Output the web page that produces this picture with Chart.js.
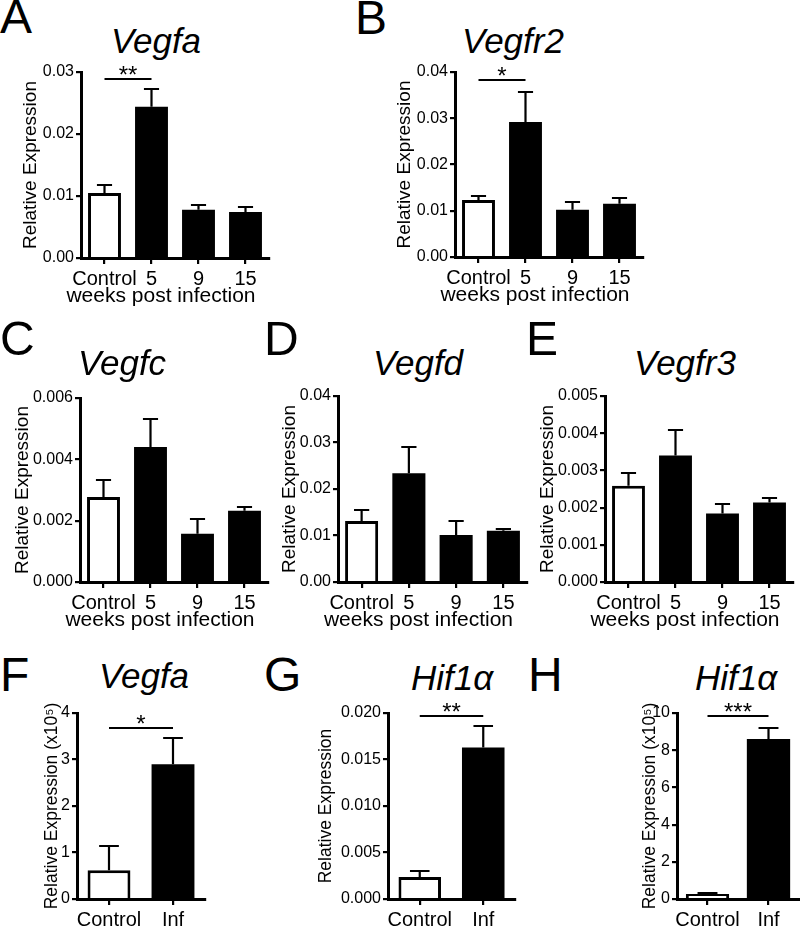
<!DOCTYPE html>
<html>
<head>
<meta charset="utf-8">
<script src="https://cdn.jsdelivr.net/npm/chart.js@4.4.1/dist/chart.umd.min.js"></script>
<style>
  body { margin: 0; background: #fff; }
  #fig { position: relative; width: 800px; height: 926px; overflow: hidden; font-family: "Liberation Sans", Arial, Helvetica, sans-serif; }
  #fig canvas { position: absolute; }
  .letter { position: absolute; font-size: 48px; line-height: 1; color: #000; }
  .gene { position: absolute; font-size: 35px; line-height: 1; font-style: italic; color: #000; transform: translateX(-50%); white-space: nowrap; }
</style>
</head>
<body>
<div id="fig"></div>
<script>
// categories
const timeLabels = ['Control', '5', '9', '15'];
const infLabels = ['Control', 'Inf'];

// A - Vegfa, weeks post infection
const vegfaMean = [0.0105, 0.0244, 0.0078, 0.0074];
const vegfaSem = [0.0013, 0.0029, 0.0007, 0.0008];
// B - Vegfr2
const vegfr2Mean = [0.0123, 0.0292, 0.0102, 0.0115];
const vegfr2Sem = [0.0008, 0.0064, 0.0017, 0.0012];
// C - Vegfc
const vegfcMean = [0.00277, 0.00440, 0.00157, 0.00232];
const vegfcSem = [0.00054, 0.00090, 0.00049, 0.00013];
// D - Vegfd
const vegfdMean = [0.0131, 0.0234, 0.0101, 0.0110];
const vegfdSem = [0.0024, 0.0056, 0.0030, 0.0005];
// E - Vegfr3
const vegfr3Mean = [0.00259, 0.00340, 0.00184, 0.00214];
const vegfr3Sem = [0.00033, 0.00068, 0.00027, 0.00011];
// F - Vegfa, control vs infected (x10^5)
const vegfaInfMean = [0.62, 2.90];
const vegfaInfSem = [0.52, 0.56];
// G - Hif1a
const hif1aMean = [0.00237, 0.0163];
const hif1aSem = [0.00063, 0.0023];
// H - Hif1a (x10^5)
const hif1aInfMean = [0.27, 8.60];
const hif1aInfSem = [0.05, 0.60];

// significance brackets
const sigA = { from: 0, to: 1, value: 0.0289, label: '**' };
const sigB = { from: 0, to: 1, value: 0.0383, label: '*' };
const sigF = { from: 0, to: 1, value: 3.68, label: '*' };
const sigG = { from: 0, to: 1, value: 0.0197, label: '**' };
const sigH = { from: 0, to: 1, value: 9.85, label: '***' };

const FONT = '"Liberation Sans", Arial, Helvetica, sans-serif';
Chart.defaults.font.family = FONT;
Chart.defaults.color = '#000';

// upper error bars (SEM)
const errorBars = {
  id: 'errorBars',
  afterDatasetsDraw(chart) {
    const { ctx } = chart;
    const ds = chart.data.datasets[0];
    const y = chart.scales.y;
    ctx.save();
    ctx.strokeStyle = '#000';
    ctx.lineWidth = 2.2;
    chart.getDatasetMeta(0).data.forEach((bar, i) => {
      const top = Math.round(y.getPixelForValue(ds.data[i] + ds.sem[i]));
      const half = bar.width * 0.23;
      ctx.beginPath();
      ctx.moveTo(bar.x, bar.y);
      ctx.lineTo(bar.x, top);
      ctx.moveTo(bar.x - half, top);
      ctx.lineTo(bar.x + half, top);
      ctx.stroke();
    });
    ctx.restore();
  }
};

// line with stars between two bars
const sigBracket = {
  id: 'sigBracket',
  afterDatasetsDraw(chart, args, opts) {
    if (!opts || opts.label == null) return;
    const { ctx } = chart;
    const x = chart.scales.x, y = chart.scales.y;
    const x1 = x.getPixelForValue(opts.from);
    const x2 = x.getPixelForValue(opts.to);
    const yy = Math.round(y.getPixelForValue(opts.value));
    ctx.save();
    ctx.strokeStyle = '#000';
    ctx.lineWidth = 2;
    ctx.beginPath();
    ctx.moveTo(x1, yy);
    ctx.lineTo(x2, yy);
    ctx.stroke();
    ctx.fillStyle = '#000';
    ctx.font = '24px ' + FONT;
    ctx.textAlign = 'center';
    ctx.textBaseline = 'alphabetic';
    ctx.fillText(opts.label, (x1 + x2) / 2, yy + 4);
    ctx.restore();
  }
};

// x caption, centred a little left of the axis like the original
const caption = {
  id: 'caption',
  afterDraw(chart, args, opts) {
    if (!opts || !opts.text) return;
    const { ctx, chartArea } = chart;
    ctx.save();
    ctx.fillStyle = '#000';
    ctx.font = '21px ' + FONT;
    ctx.textAlign = 'center';
    ctx.textBaseline = 'middle';
    ctx.fillText(opts.text, (chartArea.left + chartArea.right) / 2 + opts.dx, chartArea.bottom + opts.dy);
    ctx.restore();
  }
};

const panels = [
  { letter: 'A', lx: 0, lb: 34, gene: 'Vegfa', gx: 156, gb: 53,
    labels: timeLabels, mean: vegfaMean, sem: vegfaSem, max: 0.03, step: 0.01, dec: 2,
    yTitle: 'Relative Expression', yTitleSize: 19, cap: 'weeks post infection', sig: sigA, barPct: 0.7,
    box: { x0: 81, x1: 269, yTop: 72, yBot: 258, titleX: 30 } },
  { letter: 'B', lx: 355, lb: 35, gene: 'Vegfr2', gx: 513, gb: 53,
    labels: timeLabels, mean: vegfr2Mean, sem: vegfr2Sem, max: 0.04, step: 0.01, dec: 2,
    yTitle: 'Relative Expression', yTitleSize: 19, cap: 'weeks post infection', sig: sigB, barPct: 0.7,
    box: { x0: 455, x1: 643, yTop: 72, yBot: 257, titleX: 404 } },
  { letter: 'C', lx: 0, lb: 356, gene: 'Vegfc', gx: 122, gb: 375,
    labels: timeLabels, mean: vegfcMean, sem: vegfcSem, max: 0.006, step: 0.002, dec: 3,
    yTitle: 'Relative Expression', yTitleSize: 19, cap: 'weeks post infection', sig: null, barPct: 0.7,
    box: { x0: 80, x1: 268, yTop: 398, yBot: 582, titleX: 22 } },
  { letter: 'D', lx: 264, lb: 356, gene: 'Vegfd', gx: 418, gb: 375,
    labels: timeLabels, mean: vegfdMean, sem: vegfdSem, max: 0.04, step: 0.01, dec: 2,
    yTitle: 'Relative Expression', yTitleSize: 19, cap: 'weeks post infection', sig: null, barPct: 0.7,
    box: { x0: 338, x1: 527, yTop: 396, yBot: 582, titleX: 289 } },
  { letter: 'E', lx: 526, lb: 356, gene: 'Vegfr3', gx: 685, gb: 375,
    labels: timeLabels, mean: vegfr3Mean, sem: vegfr3Sem, max: 0.005, step: 0.001, dec: 3,
    yTitle: 'Relative Expression', yTitleSize: 19, cap: 'weeks post infection', sig: null, barPct: 0.7,
    box: { x0: 605, x1: 793, yTop: 396, yBot: 582, titleX: 547 } },
  { letter: 'F', lx: 0, lb: 692, gene: 'Vegfa', gx: 144, gb: 688,
    labels: infLabels, mean: vegfaInfMean, sem: vegfaInfSem, max: 4, step: 1, dec: 0,
    yTitle: 'Relative Expression (x10\u2075)', yTitleSize: 17.5, cap: null, sig: sigF, barPct: 0.67,
    box: { x0: 77, x1: 205, yTop: 713, yBot: 899, titleX: 52 } },
  { letter: 'G', lx: 264, lb: 692, gene: 'Hif1\u03b1', gx: 452, gb: 690,
    labels: infLabels, mean: hif1aMean, sem: hif1aSem, max: 0.02, step: 0.005, dec: 3,
    yTitle: 'Relative Expression', yTitleSize: 17.5, cap: null, sig: sigG, barPct: 0.67,
    box: { x0: 388, x1: 515, yTop: 713, yBot: 899, titleX: 326 } },
  { letter: 'H', lx: 528, lb: 692, gene: 'Hif1\u03b1', gx: 736, gb: 690,
    labels: infLabels, mean: hif1aInfMean, sem: hif1aInfSem, max: 10, step: 2, dec: 0,
    yTitle: 'Relative Expression (x10\u2075)', yTitleSize: 17.5, cap: null, sig: sigH, barPct: 0.71,
    box: { x0: 677, x1: 799, yTop: 713, yBot: 899, titleX: 650 } }
];

const fig = document.getElementById('fig');

const addText = (cls, text, left, baseline, size) => {
  const d = document.createElement('div');
  d.className = cls;
  d.textContent = text;
  d.style.left = left + 'px';
  d.style.top = Math.round(baseline - 0.846 * size) + 'px';
  fig.appendChild(d);
};

panels.forEach(p => {
  addText('letter', p.letter, p.lx, p.lb, 48);
  addText('gene', p.gene, p.gx, p.gb, 35);

  const b = p.box;
  const padTop = 30, padRight = 8;
  const xh = p.cap ? 56 : 27;
  const left = Math.round(b.titleX - p.yTitleSize * 0.6);
  const top = b.yTop - padTop;
  const width = b.x1 + padRight - left;
  const height = Math.min(926, b.yBot + xh) - top;
  const yw = b.x0 - left;
  const xHeight = top + height - b.yBot;

  const canvas = document.createElement('canvas');
  canvas.width = width;
  canvas.height = height;
  canvas.style.left = left + 'px';
  canvas.style.top = top + 'px';
  fig.appendChild(canvas);

  // control bar is open (white with black outline), the others solid black
  const isControl = p.labels.map(l => l === 'Control');

  new Chart(canvas, {
    type: 'bar',
    data: {
      labels: p.labels,
      datasets: [{
        data: p.mean,
        sem: p.sem,
        backgroundColor: isControl.map(c => c ? '#ffffff' : '#000000'),
        borderColor: '#000',
        borderWidth: isControl.map(c => c ? 3 : 0),
        barPercentage: p.barPct,
        categoryPercentage: 1
      }]
    },
    options: {
      responsive: false,
      animation: false,
      devicePixelRatio: 1,
      layout: { padding: { top: padTop, right: padRight, left: 0, bottom: 0 } },
      plugins: {
        legend: { display: false },
        tooltip: { enabled: false },
        errorBars: {},
        sigBracket: p.sig || {},
        caption: p.cap ? { text: p.cap, dx: -14, dy: 38 } : {}
      },
      scales: {
        x: {
          afterFit: s => { s.height = xHeight; },
          grid: { offset: false, drawOnChartArea: false, drawTicks: true, tickLength: 6, color: '#000', lineWidth: 2.2 },
          border: { display: true, color: '#000', width: 3 },
          ticks: { color: '#000', font: { size: 20 }, padding: 3, autoSkip: false, maxRotation: 0 }
        },
        y: {
          min: 0,
          max: p.max,
          afterFit: s => { s.width = yw; },
          grid: { drawOnChartArea: false, drawTicks: true, tickLength: 5, color: '#000', lineWidth: 2.2 },
          border: { display: true, color: '#000', width: 3 },
          ticks: {
            stepSize: p.step,
            color: '#000',
            font: { size: 16 },
            padding: 2,
            callback: v => Number(v).toFixed(p.dec)
          },
          title: {
            display: true,
            text: p.yTitle,
            color: '#000',
            font: { size: p.yTitleSize },
            padding: 0
          }
        }
      }
    },
    plugins: [errorBars, sigBracket, caption]
  });
});
</script>
</body>
</html>
